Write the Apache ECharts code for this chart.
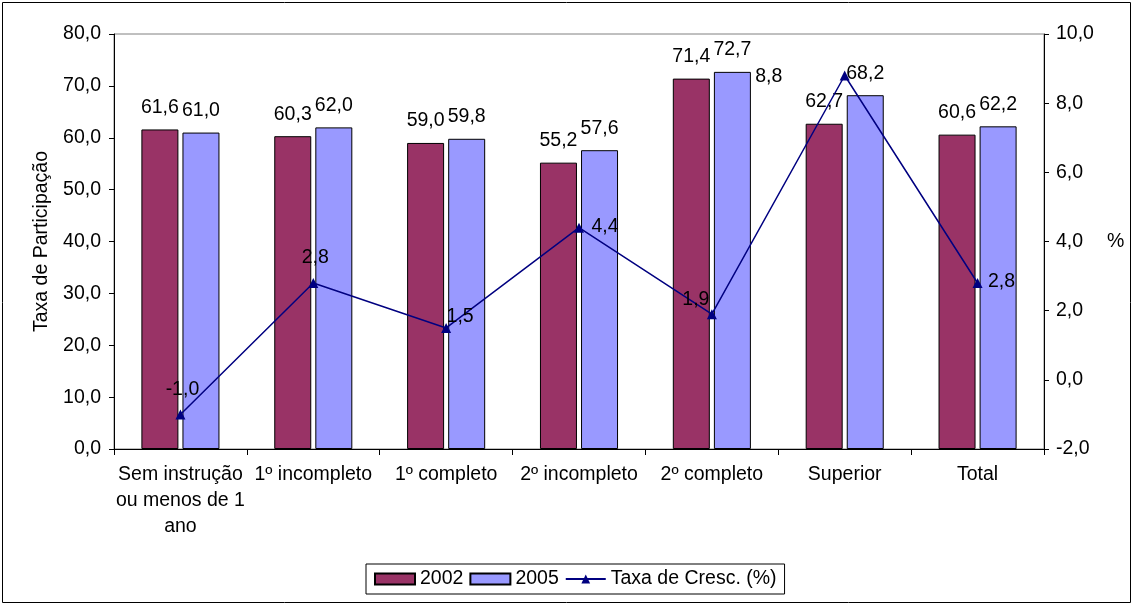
<!DOCTYPE html>
<html><head><meta charset="utf-8">
<script src="https://cdn.jsdelivr.net/npm/echarts@6/dist/echarts.min.js"></script>
<style>html,body{margin:0;padding:0;background:#fff}#c{width:1133px;height:605px}</style>
</head><body><div id="c"></div>
<script>
const categories = ['Sem instrução\nou menos de 1\nano', '1º incompleto', '1º completo', '2º incompleto', '2º completo', 'Superior', 'Total'];
const values2002 = [61.6, 60.3, 59.0, 55.2, 71.4, 62.7, 60.6];
const values2005 = [61.0, 62.0, 59.8, 57.6, 72.7, 68.2, 62.2];
const growth = [-1.0, 2.8, 1.5, 4.4, 1.9, 8.8, 2.8];
const leftTicks = {min: 0, max: 80, interval: 10};
const rightTicks = {min: -2, max: 10, interval: 2};

const FONT = 'Liberation Sans, Arial, sans-serif';
const FS = 19.5;
const fmt = v => Number(v).toFixed(1).replace('.', ',');
const lineLabelOffsets = [[2, -4], [2, -4], [14, 10], [26, 20], [-16, 6], [-76, 22], [24, 20]];

const chart = echarts.init(document.getElementById('c'), null, {renderer: 'canvas'});
chart.setOption({
  animation: false,
  textStyle: {fontFamily: FONT, color: '#000'},
  graphic: [{type: 'rect', shape: {x: 2.5, y: 2.5, width: 1128, height: 600}, style: {fill: 'none', stroke: '#000', lineWidth: 1}, silent: true}],
  grid: {left: 114, right: 89, top: 34, bottom: 156, show: true, borderColor: '#808080', borderWidth: 1},
  legend: {
    bottom: 11, left: 366,
    data: [{name: '2002', icon: 'rect'}, {name: '2005', icon: 'rect'}, {name: 'Taxa de Cresc. (%)'}],
    itemWidth: 40, itemHeight: 11, itemGap: 6,
    textStyle: {fontSize: FS, fontFamily: FONT, color: '#000'},
    borderColor: '#000', borderWidth: 1, padding: [5, 8, 5, 8]
  },
  xAxis: {
    type: 'category', data: categories,
    axisLine: {lineStyle: {color: '#000', width: 1}},
    axisTick: {show: true, length: 6, lineStyle: {color: '#000'}},
    axisLabel: {fontSize: FS, color: '#000', fontFamily: FONT, margin: 13, lineHeight: 26, interval: 0}
  },
  yAxis: [{
    type: 'value', ...leftTicks, position: 'left',
    name: 'Taxa de Participação', nameLocation: 'middle', nameGap: 62,
    nameTextStyle: {fontSize: FS, fontFamily: FONT, color: '#000'},
    axisLine: {show: true, lineStyle: {color: '#000'}},
    axisTick: {show: true, length: 5, lineStyle: {color: '#000'}},
    splitLine: {show: false},
    axisLabel: {fontSize: FS, color: '#000', fontFamily: FONT, margin: 13, formatter: fmt}
  }, {
    type: 'value', ...rightTicks, position: 'right',
    name: '%', nameLocation: 'middle', nameGap: 63, nameRotate: 0,
    nameTextStyle: {fontSize: FS, fontFamily: FONT, color: '#000'},
    axisLine: {show: true, lineStyle: {color: '#000'}},
    axisTick: {show: true, length: 5, lineStyle: {color: '#000'}},
    splitLine: {show: false},
    axisLabel: {fontSize: FS, color: '#000', fontFamily: FONT, margin: 12, formatter: fmt}
  }],
  series: [{
    name: '2002', type: 'bar', data: values2002, barWidth: 37, barGap: '11%',
    itemStyle: {color: '#993366', borderColor: '#000', borderWidth: 1},
    label: {show: true, position: 'top', distance: 12, fontSize: FS, fontFamily: FONT, color: '#000', formatter: p => fmt(p.value)}
  }, {
    name: '2005', type: 'bar', data: values2005, barWidth: 37,
    itemStyle: {color: '#9999FF', borderColor: '#000', borderWidth: 1},
    label: {show: true, position: 'top', distance: 12, fontSize: FS, fontFamily: FONT, color: '#000', formatter: p => fmt(p.value)}
  }, {
    name: 'Taxa de Cresc. (%)', type: 'line', yAxisIndex: 1, z: 5,
    data: growth.map((v, i) => ({value: v, label: {offset: lineLabelOffsets[i]}})),
    symbol: 'triangle', symbolSize: 10,
    lineStyle: {color: '#000080', width: 1.5}, itemStyle: {color: '#000080'},
    label: {show: true, position: 'top', distance: 6, fontSize: FS, fontFamily: FONT, color: '#000', formatter: p => fmt(p.value)}
  }]
});
</script></body></html>
